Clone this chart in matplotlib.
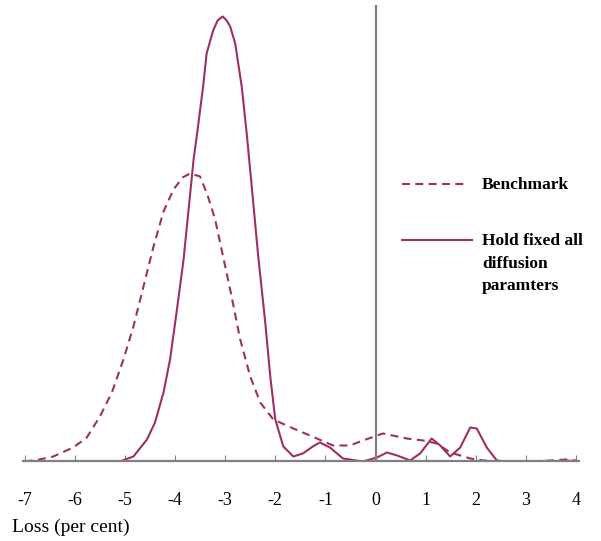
import matplotlib
matplotlib.use("Agg")
import matplotlib.pyplot as plt
from matplotlib.lines import Line2D

plt.rcParams['font.family'] = ['Liberation Serif', 'DejaVu Serif']

# loss distribution (density, arbitrary units)
bench_x = [-7.0, -6.7, -6.43, -6.03, -5.76, -5.5, -5.26, -5.03, -4.83, -4.63,
           -4.43, -4.23, -4.03, -3.85, -3.7, -3.5, -3.35, -3.2, -3.05, -2.9,
           -2.7, -2.5, -2.3, -2.04, -1.64, -1.17, -0.85, -0.51, -0.25, 0.15,
           0.62, 0.95, 1.22, 1.49, 1.89, 2.15, 2.5, 3.0, 3.5, 3.8, 4.0]
bench_y = [0, 2, 5, 14, 24, 45, 69, 102, 135, 175,
           215, 250, 272, 284, 288, 285, 266, 242, 207, 172,
           122, 85, 59, 42, 33, 23, 16, 16, 21, 28,
           23, 21, 18, 9, 3, 1, 0, 0, 1, 2, 1]

fixed_x = [-7.0, -6.0, -5.1, -4.83, -4.56, -4.4, -4.23, -4.1, -3.97, -3.83,
           -3.73, -3.63, -3.56, -3.44, -3.37, -3.24, -3.15, -3.05, -2.97, -2.9,
           -2.8, -2.67, -2.57, -2.47, -2.34, -2.2, -2.1, -2.0, -1.84, -1.64,
           -1.45, -1.25, -1.11, -0.91, -0.65, -0.25, 0.03, 0.23, 0.43, 0.69,
           0.89, 1.12, 1.29, 1.49, 1.69, 1.89, 2.02, 2.22, 2.42, 2.6,
           3.5, 3.8, 4.0]
fixed_y = [0, 0, 0, 5, 22, 39, 69, 102, 149, 202,
           252, 302, 328, 375, 408, 431, 441, 445, 441, 435,
           418, 375, 328, 275, 205, 139, 85, 42, 15, 5,
           8, 15, 19, 14, 3, 0, 4, 9, 6, 1,
           8, 23, 16, 5, 14, 34, 33, 14, 1, 0,
           0, 1, 0]

ticks = list(range(-7, 5))
tick_labels = [str(t) for t in ticks]

col = '#9e2f66'
grey = '#808080'

fig = plt.figure(figsize=(6.01, 5.41), dpi=100)
ax = fig.add_axes([0.0386, 0.147, 0.9256, 0.8438])

ax.plot(fixed_x, fixed_y, color=col, lw=1.5)
ax.plot(bench_x, bench_y, color=col, lw=1.5, dashes=(3.8, 2.6))
ax.axvline(0, color=grey, lw=1.6)

ax.set_xlim(-7.03, 4.07)
ax.set_ylim(0, 456.5)
for s in ['top', 'right', 'left']:
    ax.spines[s].set_visible(False)
ax.spines['bottom'].set_color(grey)
ax.spines['bottom'].set_linewidth(1.6)
ax.set_yticks([])
ax.set_xticks(ticks)
ax.set_xticklabels(tick_labels, fontsize=13)
ax.tick_params(axis='x', direction='in', length=4, width=0.8, color=grey, pad=22)

fig.text(0.02, 0.0259, 'Loss (per cent)', fontsize=14, va='center', ha='left')

# legend drawn by hand
fig.add_artist(Line2D([402 / 601, 468 / 601], [1 - 184 / 541] * 2, color=col,
                      lw=1.5, dashes=(3.8, 2.6), transform=fig.transFigure))
fig.text(482 / 601, 1 - 185 / 541, 'Benchmark', fontsize=12.5, fontweight='bold',
         va='center', ha='left')
fig.add_artist(Line2D([402 / 601, 472 / 601], [1 - 240 / 541] * 2, color=col,
                      lw=1.5, transform=fig.transFigure))
fig.text(482 / 601, 1 - 233 / 541, 'Hold fixed all\ndiffusion\nparamters', fontsize=12.5,
         fontweight='bold', va='top', ha='left', linespacing=1.55)

fig.savefig('out.png', dpi=100)
